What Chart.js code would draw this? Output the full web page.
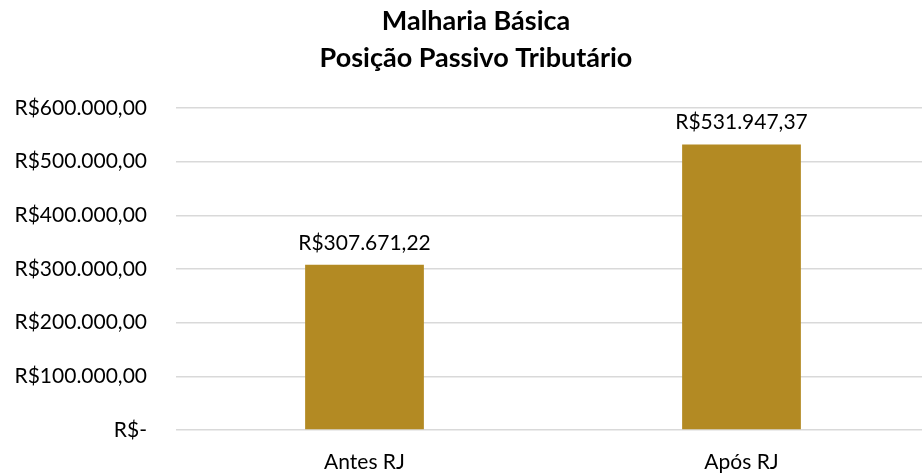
<!DOCTYPE html>
<html><head><meta charset="utf-8">
<script src="https://cdn.jsdelivr.net/npm/chart.js@4/dist/chart.umd.min.js"></script>
<style>html,body{margin:0;padding:0;overflow:hidden;background:#fff;width:922px;height:473px}
#wrap{position:absolute;left:0;top:0;width:952px;height:473px}</style>
</head><body>
<div id="wrap"><canvas id="c" width="952" height="473"></canvas></div>
<script>
const categories = ["Antes RJ", "Após RJ"];
const values = [307671.22, 531947.37];
const titleLines = ["Malharia Básica", "Posição Passivo Tributário"];
const yMax = 600000;
const yStep = 100000;

const fmt = v => {
  if (v === 0) return "R$-";
  const s = v.toFixed(2).split(".");
  const int = s[0].replace(/\B(?=(\d{3})+(?!\d))/g, ".");
  return "R$" + int + "," + s[1];
};

const FONT = "Lato, 'Open Sans', sans-serif";

const labelPlugin = {
  id: 'barLabels',
  afterLayout(chart) {
    const t = chart.titleBlock;
    if (t) { t.left += 11; t.right += 11; }
  },
  afterDatasetsDraw(chart) {
    const ctx = chart.ctx;
    const meta = chart.getDatasetMeta(0);
    ctx.save();
    ctx.font = "21px " + FONT;
    ctx.fillStyle = "#000";
    ctx.textAlign = "center";
    ctx.textBaseline = "middle";
    meta.data.forEach((bar, i) => {
      ctx.fillText(fmt(chart.data.datasets[0].data[i]), bar.x, bar.y - 22);
    });
    ctx.restore();
  }
};

new Chart(document.getElementById('c'), {
  type: 'bar',
  data: {
    labels: categories,
    datasets: [{
      data: values,
      backgroundColor: '#B38A23',
      categoryPercentage: 1,
      barPercentage: 0.315
    }]
  },
  options: {
    responsive: false,
    animation: false,
    layout: { padding: { left: 0, right: 22, top: 0, bottom: 0 } },
    plugins: {
      legend: { display: false },
      tooltip: { enabled: false },
      title: {
        display: true,
        text: titleLines,
        color: '#000',
        font: { family: FONT, size: 27, weight: 'bold', lineHeight: 1.37 },
        padding: { top: 3, bottom: 31 }
      }
    },
    scales: {
      x: {
        afterFit(scale) { scale.height = 43; },
        grid: { display: false, drawTicks: false },
        border: { display: false },
        ticks: { color: '#000', font: { family: FONT, size: 21 }, padding: 20 }
      },
      y: {
        min: 0, max: yMax,
        afterFit(scale) { scale.width = 176; },
        grid: { color: '#D9D9D9', lineWidth: 1.5, drawTicks: false },
        border: { display: false },
        ticks: {
          stepSize: yStep,
          color: '#000',
          padding: 29,
          font: { family: FONT, size: 21 },
          callback: v => fmt(v)
        }
      }
    }
  },
  plugins: [labelPlugin]
});
</script>
</body></html>
